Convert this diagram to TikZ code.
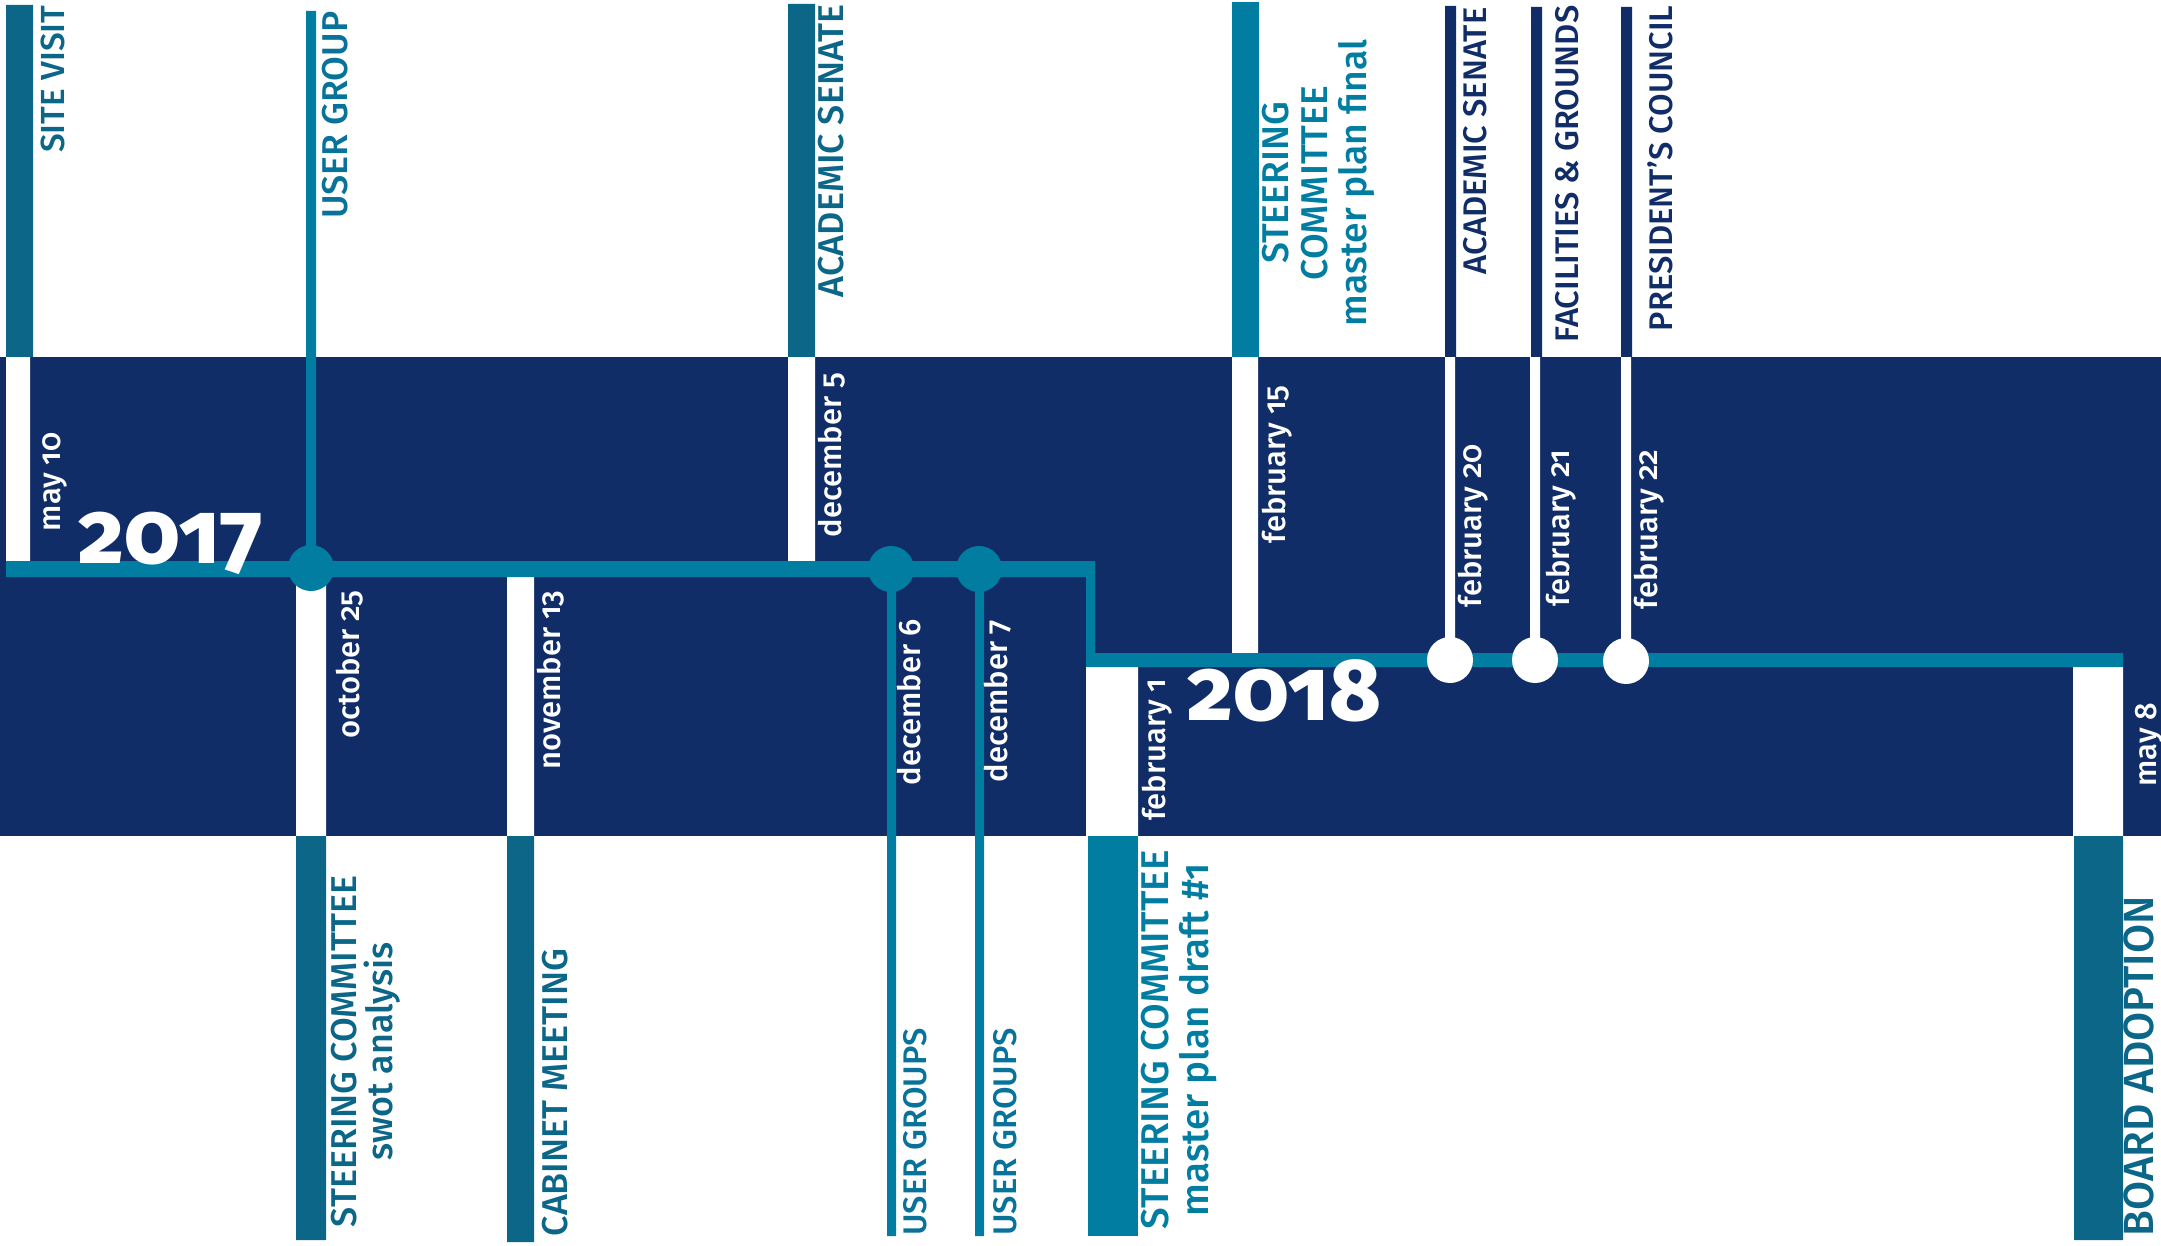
\documentclass[tikz,border=0pt]{standalone}
\usepackage{fontspec}
\setmainfont{Fira Sans}[Numbers=OldStyle,UprightFont={* Medium}]
\definecolor{tlnavy}{HTML}{112D68}
\definecolor{tlteal}{HTML}{007DA1}
\definecolor{tldark}{HTML}{0B6688}
\definecolor{tlmid}{HTML}{08729A}

\begin{document}
\begin{tikzpicture}[x=0.01cm,y=-0.01cm,
  lbl/.style={rotate=90,inner sep=0pt,font=\fontsize{10.2}{10.5}\selectfont},
  datelbl/.style={rotate=90,inner sep=0pt,text=white,font=\fontsize{8.8}{9}\selectfont},
  yearlbl/.style={inner sep=0pt,text=white,font=\fontsize{25}{25}\selectfont\bfseries}]
\useasboundingbox (0,0) rectangle (2161,1246);
\fill[tlnavy](0,357) rectangle (2161,836);
\fill[white](6,357) rectangle (30,561) (788,357) rectangle (815,562) (1232,357) rectangle (1258,653)
  (1445,357) rectangle (1455,650) (1530,357) rectangle (1540,650) (1621,357) rectangle (1631,650)
  (296,577) rectangle (326,836) (507,577) rectangle (534,836) (1086,667) rectangle (1138,836) (2073,667) rectangle (2123,836);
\fill[tldark](6,5) rectangle (33,357) (788,4) rectangle (815,357);
\fill[tlteal](1232,2) rectangle (1259,357);
\fill[tlnavy](1445,6) rectangle (1456,357) (1531,7) rectangle (1542,357) (1621,7) rectangle (1632,357);
\fill[tldark](296,836) rectangle (326,1240) (507,836) rectangle (534,1242) (2074,836) rectangle (2123,1240);
\fill[tlteal](1088,836) rectangle (1138,1236);
\fill[tlteal](6,561)--(1095,561)--(1095,653)--(2123,653)--(2123,667)--(1086,667)--(1086,577)--(6,577)--cycle;
\fill[tlteal](306,11) rectangle (316,569) (887,569) rectangle (896,1236) (975,569) rectangle (984,1236);
\fill[tlteal](311,568) circle (23) (891,569) circle (23) (979,569) circle (23);
\fill[white](1450,660) circle (23) (1535,660) circle (23) (1626,661) circle (23);
\node[yearlbl,anchor=base west](y2017) at (78,563) {2017};
\node[yearlbl,anchor=base west](y2018) at (1187,720) {2018};
\node[lbl,text=tldark,anchor=north east,font=\fontsize{9.5}{10}\selectfont](sitevisit) at (40,5) {SITE VISIT};
\node[lbl,text=tlmid,anchor=north east](usergroup) at (321,11) {USER GROUP};
\node[lbl,text=tldark,anchor=north east](senate) at (817,4) {ACADEMIC SENATE};
\node[lbl,text=tlteal,anchor=north,align=center,font=\fontsize{10.6}{11.2}\selectfont](steerfinal) at (1261,183) {STEERING\\COMMITTEE\\master plan final};
\node[lbl,text=tlnavy,anchor=north east,font=\fontsize{9.3}{9.5}\selectfont](senatetwo) at (1463,7) {ACADEMIC SENATE};
\node[lbl,text=tlnavy,anchor=north east,font=\fontsize{9.3}{9.5}\selectfont](facilities) at (1555,5) {FACILITIES \& GROUNDS};
\node[lbl,text=tlnavy,anchor=north east,font=\fontsize{9.3}{9.5}\selectfont](council) at (1647,5) {PRESIDENT’S COUNCIL};
\node[datelbl,anchor=north west](may10) at (42,532) {may 10};
\node[datelbl,anchor=north west](dec5) at (817,538) {december 5};
\node[datelbl,anchor=north west](feb15) at (1261,544) {february 15};
\node[datelbl,anchor=north west](feb20) at (1457,608) {february 20};
\node[datelbl,anchor=north west](feb21) at (1545,607) {february 21};
\node[datelbl,anchor=north west](feb22) at (1633,610) {february 22};
\node[datelbl,anchor=north east](oct25) at (335,590) {october 25};
\node[datelbl,anchor=north east](nov13) at (536,590) {november 13};
\node[datelbl,anchor=north east](dec6) at (896,619) {december 6};
\node[datelbl,anchor=north east](dec7) at (983,619) {december 7};
\node[datelbl,anchor=north east](feb1) at (1141,678) {february 1};
\node[datelbl,anchor=north east](may8) at (2135,702) {may 8};
\node[lbl,text=tldark,anchor=north west,align=center](steerswot) at (330,1228) {STEERING COMMITTEE\\swot analysis};
\node[lbl,text=tldark,anchor=north west](cabinet) at (541,1237) {CABINET MEETING};
\node[lbl,text=tlmid,anchor=north west,font=\fontsize{9.3}{9.5}\selectfont](usergroups) at (903,1236) {USER GROUPS};
\node[lbl,text=tlmid,anchor=north west,font=\fontsize{9.3}{9.5}\selectfont](usergroupstwo) at (993,1236) {USER GROUPS};
\node[lbl,text=tlteal,anchor=north west,align=center,font=\fontsize{11}{11.5}\selectfont](steerdraft) at (1140,1230) {STEERING COMMITTEE\\master plan draft \#1};
\node[lbl,text=tldark,anchor=north west,font=\fontsize{12}{12}\selectfont](board) at (2123,1237) {BOARD ADOPTION};
\end{tikzpicture}
\end{document}
